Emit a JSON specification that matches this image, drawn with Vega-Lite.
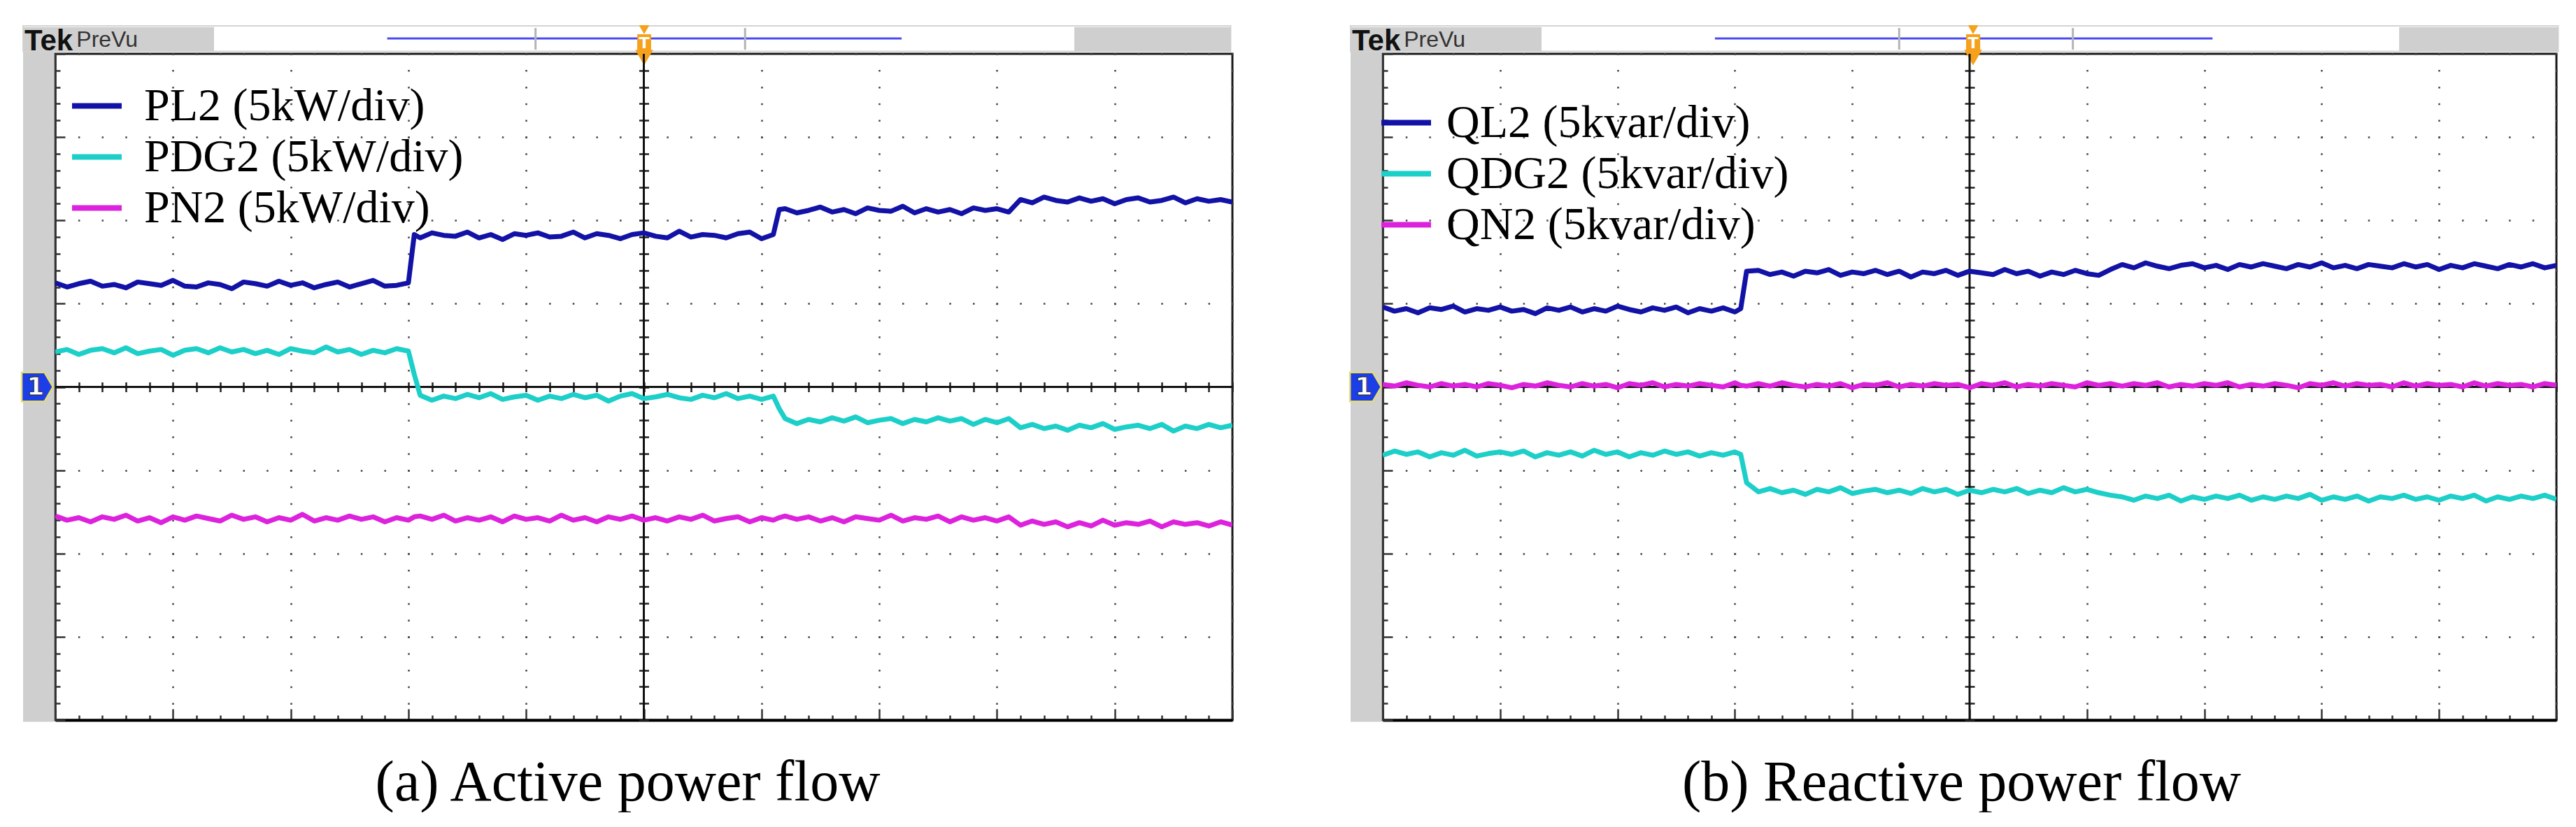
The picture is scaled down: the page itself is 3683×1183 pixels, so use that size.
{
"$schema": "https://vega.github.io/schema/vega-lite/v6.json",
"background": "white",
"padding": {"left": 24, "top": 34, "right": 10, "bottom": 0},
"spacing": 215,
"bounds": "flush",
"config": {"view": {"stroke": "#1a1a1a", "strokeWidth": 3}, "font": "Liberation Serif"},
"resolve": {"scale": {"color": "independent", "x": "independent", "y": "independent"}, "legend": {"color": "independent"}},
"datasets": {
"active": [
{"t":0,"PL2":1.25,"PDG2":0.42,"PN2":-1.55},
{"t":0.1,"PL2":1.20,"PDG2":0.45,"PN2":-1.60},
{"t":0.2,"PL2":1.24,"PDG2":0.39,"PN2":-1.57},
{"t":0.3,"PL2":1.27,"PDG2":0.44,"PN2":-1.62},
{"t":0.4,"PL2":1.21,"PDG2":0.46,"PN2":-1.56},
{"t":0.5,"PL2":1.23,"PDG2":0.41,"PN2":-1.59},
{"t":0.6,"PL2":1.19,"PDG2":0.47,"PN2":-1.54},
{"t":0.7,"PL2":1.26,"PDG2":0.40,"PN2":-1.61},
{"t":0.8,"PL2":1.24,"PDG2":0.43,"PN2":-1.57},
{"t":0.9,"PL2":1.22,"PDG2":0.45,"PN2":-1.63},
{"t":1.0,"PL2":1.28,"PDG2":0.38,"PN2":-1.56},
{"t":1.1,"PL2":1.21,"PDG2":0.44,"PN2":-1.60},
{"t":1.2,"PL2":1.20,"PDG2":0.46,"PN2":-1.55},
{"t":1.3,"PL2":1.25,"PDG2":0.41,"PN2":-1.58},
{"t":1.4,"PL2":1.23,"PDG2":0.47,"PN2":-1.61},
{"t":1.5,"PL2":1.18,"PDG2":0.42,"PN2":-1.54},
{"t":1.6,"PL2":1.26,"PDG2":0.45,"PN2":-1.59},
{"t":1.7,"PL2":1.24,"PDG2":0.40,"PN2":-1.56},
{"t":1.8,"PL2":1.21,"PDG2":0.44,"PN2":-1.62},
{"t":1.9,"PL2":1.27,"PDG2":0.39,"PN2":-1.57},
{"t":2.0,"PL2":1.22,"PDG2":0.46,"PN2":-1.60},
{"t":2.1,"PL2":1.25,"PDG2":0.43,"PN2":-1.53},
{"t":2.2,"PL2":1.19,"PDG2":0.41,"PN2":-1.61},
{"t":2.3,"PL2":1.23,"PDG2":0.48,"PN2":-1.57},
{"t":2.4,"PL2":1.26,"PDG2":0.42,"PN2":-1.60},
{"t":2.5,"PL2":1.20,"PDG2":0.45,"PN2":-1.55},
{"t":2.6,"PL2":1.24,"PDG2":0.39,"PN2":-1.59},
{"t":2.7,"PL2":1.28,"PDG2":0.44,"PN2":-1.56},
{"t":2.8,"PL2":1.21,"PDG2":0.41,"PN2":-1.62},
{"t":2.9,"PL2":1.22,"PDG2":0.46,"PN2":-1.57},
{"t":3.0,"PL2":1.25,"PDG2":0.43,"PN2":-1.60},
{"t":3.05,"PL2":1.83,"PDG2":0.15,"PN2":-1.56},
{"t":3.1,"PL2":1.79,"PDG2":-0.10,"PN2":-1.55},
{"t":3.2,"PL2":1.85,"PDG2":-0.16,"PN2":-1.59},
{"t":3.3,"PL2":1.82,"PDG2":-0.11,"PN2":-1.54},
{"t":3.4,"PL2":1.81,"PDG2":-0.14,"PN2":-1.61},
{"t":3.5,"PL2":1.86,"PDG2":-0.09,"PN2":-1.57},
{"t":3.6,"PL2":1.79,"PDG2":-0.13,"PN2":-1.60},
{"t":3.7,"PL2":1.83,"PDG2":-0.08,"PN2":-1.56},
{"t":3.8,"PL2":1.77,"PDG2":-0.15,"PN2":-1.62},
{"t":3.9,"PL2":1.84,"PDG2":-0.12,"PN2":-1.55},
{"t":4.0,"PL2":1.82,"PDG2":-0.10,"PN2":-1.59},
{"t":4.1,"PL2":1.85,"PDG2":-0.16,"PN2":-1.57},
{"t":4.2,"PL2":1.80,"PDG2":-0.11,"PN2":-1.61},
{"t":4.3,"PL2":1.81,"PDG2":-0.14,"PN2":-1.54},
{"t":4.4,"PL2":1.86,"PDG2":-0.09,"PN2":-1.60},
{"t":4.5,"PL2":1.79,"PDG2":-0.13,"PN2":-1.57},
{"t":4.6,"PL2":1.84,"PDG2":-0.10,"PN2":-1.62},
{"t":4.7,"PL2":1.82,"PDG2":-0.17,"PN2":-1.56},
{"t":4.8,"PL2":1.78,"PDG2":-0.11,"PN2":-1.59},
{"t":4.9,"PL2":1.83,"PDG2":-0.08,"PN2":-1.55},
{"t":5.0,"PL2":1.85,"PDG2":-0.14,"PN2":-1.60},
{"t":5.1,"PL2":1.81,"PDG2":-0.12,"PN2":-1.57},
{"t":5.2,"PL2":1.79,"PDG2":-0.09,"PN2":-1.61},
{"t":5.3,"PL2":1.87,"PDG2":-0.13,"PN2":-1.56},
{"t":5.4,"PL2":1.80,"PDG2":-0.15,"PN2":-1.59},
{"t":5.5,"PL2":1.83,"PDG2":-0.10,"PN2":-1.54},
{"t":5.6,"PL2":1.82,"PDG2":-0.13,"PN2":-1.61},
{"t":5.7,"PL2":1.79,"PDG2":-0.08,"PN2":-1.58},
{"t":5.8,"PL2":1.84,"PDG2":-0.14,"PN2":-1.56},
{"t":5.9,"PL2":1.86,"PDG2":-0.11,"PN2":-1.62},
{"t":6.0,"PL2":1.78,"PDG2":-0.15,"PN2":-1.57},
{"t":6.1,"PL2":1.83,"PDG2":-0.11,"PN2":-1.60},
{"t":6.15,"PL2":2.13,"PDG2":-0.26,"PN2":-1.57},
{"t":6.2,"PL2":2.14,"PDG2":-0.38,"PN2":-1.55},
{"t":6.3,"PL2":2.09,"PDG2":-0.44,"PN2":-1.59},
{"t":6.4,"PL2":2.12,"PDG2":-0.39,"PN2":-1.56},
{"t":6.5,"PL2":2.16,"PDG2":-0.42,"PN2":-1.61},
{"t":6.6,"PL2":2.10,"PDG2":-0.37,"PN2":-1.57},
{"t":6.7,"PL2":2.13,"PDG2":-0.41,"PN2":-1.62},
{"t":6.8,"PL2":2.08,"PDG2":-0.36,"PN2":-1.56},
{"t":6.9,"PL2":2.15,"PDG2":-0.43,"PN2":-1.58},
{"t":7.0,"PL2":2.12,"PDG2":-0.40,"PN2":-1.60},
{"t":7.1,"PL2":2.11,"PDG2":-0.38,"PN2":-1.54},
{"t":7.2,"PL2":2.17,"PDG2":-0.44,"PN2":-1.61},
{"t":7.3,"PL2":2.09,"PDG2":-0.39,"PN2":-1.57},
{"t":7.4,"PL2":2.14,"PDG2":-0.42,"PN2":-1.59},
{"t":7.5,"PL2":2.10,"PDG2":-0.37,"PN2":-1.55},
{"t":7.6,"PL2":2.13,"PDG2":-0.41,"PN2":-1.62},
{"t":7.7,"PL2":2.08,"PDG2":-0.38,"PN2":-1.56},
{"t":7.8,"PL2":2.15,"PDG2":-0.45,"PN2":-1.60},
{"t":7.9,"PL2":2.12,"PDG2":-0.39,"PN2":-1.57},
{"t":8.0,"PL2":2.14,"PDG2":-0.43,"PN2":-1.61},
{"t":8.1,"PL2":2.10,"PDG2":-0.38,"PN2":-1.56},
{"t":8.2,"PL2":2.25,"PDG2":-0.49,"PN2":-1.66},
{"t":8.3,"PL2":2.21,"PDG2":-0.45,"PN2":-1.61},
{"t":8.4,"PL2":2.28,"PDG2":-0.50,"PN2":-1.65},
{"t":8.5,"PL2":2.24,"PDG2":-0.47,"PN2":-1.62},
{"t":8.6,"PL2":2.22,"PDG2":-0.52,"PN2":-1.68},
{"t":8.7,"PL2":2.27,"PDG2":-0.46,"PN2":-1.63},
{"t":8.8,"PL2":2.23,"PDG2":-0.49,"PN2":-1.67},
{"t":8.9,"PL2":2.26,"PDG2":-0.44,"PN2":-1.60},
{"t":9.0,"PL2":2.20,"PDG2":-0.51,"PN2":-1.66},
{"t":9.1,"PL2":2.25,"PDG2":-0.48,"PN2":-1.63},
{"t":9.2,"PL2":2.27,"PDG2":-0.46,"PN2":-1.65},
{"t":9.3,"PL2":2.22,"PDG2":-0.50,"PN2":-1.61},
{"t":9.4,"PL2":2.24,"PDG2":-0.45,"PN2":-1.68},
{"t":9.5,"PL2":2.28,"PDG2":-0.53,"PN2":-1.62},
{"t":9.6,"PL2":2.21,"PDG2":-0.47,"PN2":-1.65},
{"t":9.7,"PL2":2.26,"PDG2":-0.50,"PN2":-1.63},
{"t":9.8,"PL2":2.23,"PDG2":-0.45,"PN2":-1.67},
{"t":9.9,"PL2":2.25,"PDG2":-0.49,"PN2":-1.62},
{"t":10.0,"PL2":2.22,"PDG2":-0.46,"PN2":-1.66}
],
"reactive": [
{"t":0,"QL2":0.96,"QDG2":-0.82,"QN2":0.03},
{"t":0.1,"QL2":0.91,"QDG2":-0.77,"QN2":0.01},
{"t":0.2,"QL2":0.94,"QDG2":-0.81,"QN2":0.05},
{"t":0.3,"QL2":0.89,"QDG2":-0.78,"QN2":0.02},
{"t":0.4,"QL2":0.95,"QDG2":-0.84,"QN2":0.00},
{"t":0.5,"QL2":0.93,"QDG2":-0.79,"QN2":0.04},
{"t":0.6,"QL2":0.97,"QDG2":-0.82,"QN2":0.01},
{"t":0.7,"QL2":0.90,"QDG2":-0.76,"QN2":0.03},
{"t":0.8,"QL2":0.94,"QDG2":-0.83,"QN2":0.00},
{"t":0.9,"QL2":0.92,"QDG2":-0.80,"QN2":0.04},
{"t":1.0,"QL2":0.96,"QDG2":-0.78,"QN2":0.02},
{"t":1.1,"QL2":0.91,"QDG2":-0.81,"QN2":-0.01},
{"t":1.2,"QL2":0.93,"QDG2":-0.77,"QN2":0.03},
{"t":1.3,"QL2":0.88,"QDG2":-0.84,"QN2":0.01},
{"t":1.4,"QL2":0.95,"QDG2":-0.79,"QN2":0.05},
{"t":1.5,"QL2":0.92,"QDG2":-0.82,"QN2":0.02},
{"t":1.6,"QL2":0.96,"QDG2":-0.78,"QN2":0.00},
{"t":1.7,"QL2":0.90,"QDG2":-0.83,"QN2":0.04},
{"t":1.8,"QL2":0.94,"QDG2":-0.76,"QN2":0.01},
{"t":1.9,"QL2":0.91,"QDG2":-0.81,"QN2":0.03},
{"t":2.0,"QL2":0.97,"QDG2":-0.78,"QN2":-0.01},
{"t":2.1,"QL2":0.93,"QDG2":-0.84,"QN2":0.04},
{"t":2.2,"QL2":0.90,"QDG2":-0.79,"QN2":0.02},
{"t":2.3,"QL2":0.95,"QDG2":-0.82,"QN2":0.05},
{"t":2.4,"QL2":0.92,"QDG2":-0.77,"QN2":0.00},
{"t":2.5,"QL2":0.96,"QDG2":-0.81,"QN2":0.03},
{"t":2.6,"QL2":0.89,"QDG2":-0.78,"QN2":0.01},
{"t":2.7,"QL2":0.94,"QDG2":-0.83,"QN2":0.04},
{"t":2.8,"QL2":0.91,"QDG2":-0.79,"QN2":0.02},
{"t":2.9,"QL2":0.95,"QDG2":-0.82,"QN2":0.00},
{"t":3.0,"QL2":0.90,"QDG2":-0.78,"QN2":0.05},
{"t":3.05,"QL2":0.94,"QDG2":-0.81,"QN2":0.02},
{"t":3.1,"QL2":1.39,"QDG2":-1.15,"QN2":0.01},
{"t":3.2,"QL2":1.40,"QDG2":-1.26,"QN2":0.04},
{"t":3.3,"QL2":1.35,"QDG2":-1.22,"QN2":0.01},
{"t":3.4,"QL2":1.38,"QDG2":-1.27,"QN2":0.05},
{"t":3.5,"QL2":1.33,"QDG2":-1.24,"QN2":0.02},
{"t":3.6,"QL2":1.39,"QDG2":-1.29,"QN2":0.00},
{"t":3.7,"QL2":1.37,"QDG2":-1.23,"QN2":0.03},
{"t":3.8,"QL2":1.41,"QDG2":-1.26,"QN2":0.01},
{"t":3.9,"QL2":1.34,"QDG2":-1.21,"QN2":0.04},
{"t":4.0,"QL2":1.38,"QDG2":-1.28,"QN2":-0.01},
{"t":4.1,"QL2":1.36,"QDG2":-1.25,"QN2":0.03},
{"t":4.2,"QL2":1.40,"QDG2":-1.23,"QN2":0.02},
{"t":4.3,"QL2":1.35,"QDG2":-1.27,"QN2":0.05},
{"t":4.4,"QL2":1.39,"QDG2":-1.24,"QN2":0.00},
{"t":4.5,"QL2":1.32,"QDG2":-1.28,"QN2":0.03},
{"t":4.6,"QL2":1.38,"QDG2":-1.22,"QN2":0.01},
{"t":4.7,"QL2":1.36,"QDG2":-1.26,"QN2":0.04},
{"t":4.8,"QL2":1.40,"QDG2":-1.23,"QN2":0.02},
{"t":4.9,"QL2":1.34,"QDG2":-1.29,"QN2":0.03},
{"t":5.0,"QL2":1.39,"QDG2":-1.24,"QN2":-0.01},
{"t":5.1,"QL2":1.37,"QDG2":-1.27,"QN2":0.04},
{"t":5.2,"QL2":1.35,"QDG2":-1.23,"QN2":0.02},
{"t":5.3,"QL2":1.41,"QDG2":-1.26,"QN2":0.05},
{"t":5.4,"QL2":1.36,"QDG2":-1.22,"QN2":0.00},
{"t":5.5,"QL2":1.39,"QDG2":-1.28,"QN2":0.03},
{"t":5.6,"QL2":1.33,"QDG2":-1.24,"QN2":0.01},
{"t":5.7,"QL2":1.38,"QDG2":-1.27,"QN2":0.04},
{"t":5.8,"QL2":1.35,"QDG2":-1.21,"QN2":0.02},
{"t":5.9,"QL2":1.40,"QDG2":-1.26,"QN2":0.00},
{"t":6.0,"QL2":1.36,"QDG2":-1.23,"QN2":0.05},
{"t":6.1,"QL2":1.34,"QDG2":-1.27,"QN2":0.02},
{"t":6.2,"QL2":1.41,"QDG2":-1.30,"QN2":0.04},
{"t":6.3,"QL2":1.47,"QDG2":-1.32,"QN2":0.01},
{"t":6.4,"QL2":1.43,"QDG2":-1.36,"QN2":0.04},
{"t":6.5,"QL2":1.49,"QDG2":-1.31,"QN2":0.02},
{"t":6.6,"QL2":1.45,"QDG2":-1.34,"QN2":0.05},
{"t":6.7,"QL2":1.42,"QDG2":-1.30,"QN2":0.00},
{"t":6.8,"QL2":1.46,"QDG2":-1.37,"QN2":0.03},
{"t":6.9,"QL2":1.48,"QDG2":-1.32,"QN2":0.01},
{"t":7.0,"QL2":1.43,"QDG2":-1.35,"QN2":0.04},
{"t":7.1,"QL2":1.46,"QDG2":-1.31,"QN2":0.02},
{"t":7.2,"QL2":1.41,"QDG2":-1.34,"QN2":0.05},
{"t":7.3,"QL2":1.47,"QDG2":-1.30,"QN2":0.00},
{"t":7.4,"QL2":1.44,"QDG2":-1.36,"QN2":0.03},
{"t":7.5,"QL2":1.48,"QDG2":-1.32,"QN2":0.01},
{"t":7.6,"QL2":1.45,"QDG2":-1.35,"QN2":0.04},
{"t":7.7,"QL2":1.42,"QDG2":-1.31,"QN2":0.02},
{"t":7.8,"QL2":1.47,"QDG2":-1.34,"QN2":-0.01},
{"t":7.9,"QL2":1.44,"QDG2":-1.29,"QN2":0.04},
{"t":8.0,"QL2":1.49,"QDG2":-1.36,"QN2":0.02},
{"t":8.1,"QL2":1.43,"QDG2":-1.32,"QN2":0.05},
{"t":8.2,"QL2":1.46,"QDG2":-1.35,"QN2":0.01},
{"t":8.3,"QL2":1.42,"QDG2":-1.31,"QN2":0.04},
{"t":8.4,"QL2":1.47,"QDG2":-1.37,"QN2":0.02},
{"t":8.5,"QL2":1.45,"QDG2":-1.32,"QN2":0.03},
{"t":8.6,"QL2":1.43,"QDG2":-1.34,"QN2":0.00},
{"t":8.7,"QL2":1.48,"QDG2":-1.30,"QN2":0.05},
{"t":8.8,"QL2":1.44,"QDG2":-1.35,"QN2":0.01},
{"t":8.9,"QL2":1.47,"QDG2":-1.32,"QN2":0.04},
{"t":9.0,"QL2":1.41,"QDG2":-1.36,"QN2":0.02},
{"t":9.1,"QL2":1.46,"QDG2":-1.31,"QN2":0.03},
{"t":9.2,"QL2":1.43,"QDG2":-1.34,"QN2":0.00},
{"t":9.3,"QL2":1.48,"QDG2":-1.30,"QN2":0.05},
{"t":9.4,"QL2":1.45,"QDG2":-1.37,"QN2":0.01},
{"t":9.5,"QL2":1.42,"QDG2":-1.32,"QN2":0.04},
{"t":9.6,"QL2":1.47,"QDG2":-1.35,"QN2":0.02},
{"t":9.7,"QL2":1.44,"QDG2":-1.31,"QN2":0.03},
{"t":9.8,"QL2":1.48,"QDG2":-1.34,"QN2":0.00},
{"t":9.9,"QL2":1.43,"QDG2":-1.30,"QN2":0.04},
{"t":10.0,"QL2":1.46,"QDG2":-1.35,"QN2":0.02}
]
},
"hconcat": [
{
"width": 1683, "height": 953,
"resolve": {"axis": {"x": "independent", "y": "independent"}},
"layer": [
{"data":{"values":[{}]},"mark":{"type":"rect","fill":"#cfcfcf"},"encoding":{"x":{"datum":-0.273,"type":"quantitative","scale":{"domain":[0,10],"nice":false,"zero":false},"axis":null},"x2":{"datum":-0.009},"y":{"datum":-4.02,"type":"quantitative","scale":{"domain":[-4,4],"nice":false,"zero":false},"axis":null},"y2":{"datum":4.03}}},
{"data":{"values":[{}]},"mark":{"type":"rect","fill":"#ffffff","stroke":"#d4d4d4","strokeWidth":2},"encoding":{"x":{"datum":-0.273,"type":"quantitative","axis":null},"x2":{"datum":9.985},"y":{"datum":4.03,"type":"quantitative","axis":null},"y2":{"datum":4.335}}},
{"data":{"values":[{}]},"mark":{"type":"rect","fill":"#cfcfcf"},"encoding":{"x":{"datum":-0.273,"type":"quantitative","axis":null},"x2":{"datum":1.349},"y":{"datum":4.03,"type":"quantitative","axis":null},"y2":{"datum":4.322}}},
{"data":{"values":[{}]},"mark":{"type":"rect","fill":"#cfcfcf"},"encoding":{"x":{"datum":8.657,"type":"quantitative","axis":null},"x2":{"datum":9.985},"y":{"datum":4.03,"type":"quantitative","axis":null},"y2":{"datum":4.322}}},
{"data":{"values":[{}]},"mark":{"type":"rule","color":"#4b4bef","strokeWidth":3},"encoding":{"x":{"datum":2.82,"type":"quantitative","axis":null},"x2":{"datum":7.19},"y":{"datum":4.185,"type":"quantitative","axis":null}}},
{"data":{"values":[{}]},"mark":{"type":"rule","color":"#b4b4b4","strokeWidth":3},"encoding":{"x":{"datum":4.08,"type":"quantitative","axis":null},"y":{"datum":4.05,"type":"quantitative","axis":null},"y2":{"datum":4.31}}},
{"data":{"values":[{}]},"mark":{"type":"rule","color":"#b4b4b4","strokeWidth":3},"encoding":{"x":{"datum":5.86,"type":"quantitative","axis":null},"y":{"datum":4.05,"type":"quantitative","axis":null},"y2":{"datum":4.31}}},
{"data":{"values":[{}]},"mark":{"type":"rect","fill":"#f5a11c"},"encoding":{"x":{"datum":4.944,"type":"quantitative","axis":null},"x2":{"datum":5.062},"y":{"datum":4.03,"type":"quantitative","axis":null},"y2":{"datum":4.235}}},
{"data":{"values":[{}]},"mark":{"type":"point","shape":"triangle-down","filled":true,"fill":"#f5a11c","opacity":1,"size":220},"encoding":{"x":{"datum":5.003,"type":"quantitative","axis":null},"y":{"datum":4.29,"type":"quantitative","axis":null}}},
{"data":{"values":[{}]},"mark":{"type":"point","shape":"triangle-down","filled":true,"fill":"#f5a11c","opacity":1,"size":650},"encoding":{"x":{"datum":5.003,"type":"quantitative","axis":null},"y":{"datum":3.955,"type":"quantitative","axis":null}}},
{"data":{"values":[{}]},"mark":{"type":"text","text":"T","font":"DejaVu Sans","fontWeight":"bold","fontSize":22,"color":"#ffffff","align":"center","baseline":"middle"},"encoding":{"x":{"datum":5.003,"type":"quantitative","axis":null},"y":{"datum":4.13,"type":"quantitative","axis":null}}},
{"data":{"values":[{}]},"mark":{"type":"text","text":"Tek","font":"Liberation Sans","fontWeight":"bold","fontSize":42,"color":"#111111","align":"left","baseline":"alphabetic"},"encoding":{"x":{"datum":-0.262,"type":"quantitative","axis":null},"y":{"datum":4.042,"type":"quantitative","axis":null}}},
{"data":{"values":[{}]},"mark":{"type":"text","text":"PreVu","font":"Liberation Sans","fontSize":32,"color":"#333333","align":"left","baseline":"alphabetic"},"encoding":{"x":{"datum":0.18,"type":"quantitative","axis":null},"y":{"datum":4.084,"type":"quantitative","axis":null}}},
{"data":{"values":[{}]},"mark":{"type":"point","shape":"M-1,-0.93L0.45,-0.93L1,0L0.45,0.93L-1,0.93Z","filled":true,"fill":"#1c3ee6","stroke":"#e6dc6e","strokeWidth":2.5,"opacity":1,"size":2000},"encoding":{"x":{"datum":-0.152,"type":"quantitative","axis":null},"y":{"datum":0,"type":"quantitative","axis":null}}},
{"data":{"values":[{}]},"mark":{"type":"text","text":"1","font":"DejaVu Sans","fontWeight":"bold","fontSize":36,"color":"#ffffff","stroke":"#222222","strokeWidth":0.8,"align":"center","baseline":"middle"},"encoding":{"x":{"datum":-0.168,"type":"quantitative","axis":null},"y":{"datum":0,"type":"quantitative","axis":null}}},
{"data":{"values":[{}]},"mark":{"type":"rule","color":"#111111","strokeWidth":3},"encoding":{"x":{"datum":5,"type":"quantitative","axis":{"orient":"top","offset":-483.5,"values":[0,0.2,0.4,0.6,0.8,1,1.2,1.4,1.6,1.8,2,2.2,2.4,2.6,2.8,3,3.2,3.4,3.6,3.8,4,4.2,4.4,4.6,4.8,5,5.2,5.4,5.6,5.8,6,6.2,6.4,6.6,6.8,7,7.2,7.4,7.6,7.8,8,8.2,8.4,8.6,8.8,9,9.2,9.4,9.6,9.8,10],"labels":false,"domain":false,"grid":false,"ticks":true,"tickSize":14,"tickColor":"#222222","tickWidth":2.5,"title":null}}}},
{"data":{"values":[{}]},"mark":{"type":"rule","color":"#111111","strokeWidth":3},"encoding":{"y":{"datum":0,"type":"quantitative","axis":{"orient":"right","offset":-848.5,"values":[-4,-3.8,-3.6,-3.4,-3.2,-3,-2.8,-2.6,-2.4,-2.2,-2,-1.8,-1.6,-1.4,-1.2,-1,-0.8,-0.6,-0.4,-0.2,0,0.2,0.4,0.6,0.8,1,1.2,1.4,1.6,1.8,2,2.2,2.4,2.6,2.8,3,3.2,3.4,3.6,3.8,4],"labels":false,"domain":false,"grid":false,"ticks":true,"tickSize":14,"tickColor":"#222222","tickWidth":2.5,"title":null}}}},
{"data":{"name":"active"},"transform":[{"fold":["PL2","PDG2","PN2"],"as":["series","value"]}],
"mark":{"type":"line","strokeWidth":7,"strokeJoin":"round","clip":true},
"encoding":{
"x":{"field":"t","type":"quantitative","scale":{"domain":[0,10],"nice":false,"zero":false},"axis":{"orient":"bottom","values":[0,0.2,0.4,0.6,0.8,1,1.2,1.4,1.6,1.8,2,2.2,2.4,2.6,2.8,3,3.2,3.4,3.6,3.8,4,4.2,4.4,4.6,4.8,5,5.2,5.4,5.6,5.8,6,6.2,6.4,6.6,6.8,7,7.2,7.4,7.6,7.8,8,8.2,8.4,8.6,8.8,9,9.2,9.4,9.6,9.8,10],"labels":false,"domain":true,"domainColor":"#000000","domainWidth":4,"ticks":true,"tickColor":"#333333","tickWidth":2.5,"tickSize":{"condition":{"test":"abs(datum.value - round(datum.value)) < 0.001","value":-16},"value":-7},"grid":true,"gridColor":"#444444","gridWidth":2.5,"gridDash":[2.5,21.33],"gridDashOffset":1.25,"gridOpacity":{"condition":{"test":"abs(datum.value - round(datum.value)) < 0.001","value":1},"value":0},"title":"(a) Active power flow","titleFont":"Liberation Serif","titleFontSize":82,"titleFontWeight":"normal","titleColor":"#000000","titleBaseline":"alphabetic","titleX":818,"titleY":114}},
"y":{"field":"value","type":"quantitative","scale":{"domain":[-4,4],"nice":false,"zero":false},"axis":{"orient":"left","values":[-4,-3.8,-3.6,-3.4,-3.2,-3,-2.8,-2.6,-2.4,-2.2,-2,-1.8,-1.6,-1.4,-1.2,-1,-0.8,-0.6,-0.4,-0.2,0,0.2,0.4,0.6,0.8,1,1.2,1.4,1.6,1.8,2,2.2,2.4,2.6,2.8,3,3.2,3.4,3.6,3.8,4],"labels":false,"domain":true,"domainColor":"#333333","domainWidth":2.5,"ticks":true,"tickColor":"#333333","tickWidth":2.5,"tickSize":{"condition":{"test":"abs(datum.value - round(datum.value)) < 0.001","value":-14},"value":-7},"grid":true,"gridColor":"#444444","gridWidth":2.5,"gridDash":[2.5,31.16],"gridDashOffset":1.25,"gridOpacity":{"condition":{"test":"abs(datum.value - round(datum.value)) < 0.001","value":1},"value":0},"title":null}},
"color":{"field":"series","type":"nominal","scale":{"domain":["PL2","PDG2","PN2"],"range":["#1212a6","#1ccfc8","#dd22dd"]},"legend":{"title":null,"orient":"none","legendX":20,"legendY":35,"padding":0,"rowPadding":-1,"symbolType":"stroke","symbolSize":5041,"symbolStrokeWidth":8,"symbolOpacity":1,"labelOffset":28,"labelFont":"Liberation Serif","labelFontSize":66,"labelColor":"#000000","labelLimit":1000,"labelExpr":"datum.label + ' (5kW/div)'"}}
}}
]
},
{
"width": 1678, "height": 953,
"resolve": {"axis": {"x": "independent", "y": "independent"}},
"layer": [
{"data":{"values":[{}]},"mark":{"type":"rect","fill":"#cfcfcf"},"encoding":{"x":{"datum":-0.274,"type":"quantitative","scale":{"domain":[0,10],"nice":false,"zero":false},"axis":null},"x2":{"datum":-0.009},"y":{"datum":-4.02,"type":"quantitative","scale":{"domain":[-4,4],"nice":false,"zero":false},"axis":null},"y2":{"datum":4.03}}},
{"data":{"values":[{}]},"mark":{"type":"rect","fill":"#ffffff","stroke":"#d4d4d4","strokeWidth":2},"encoding":{"x":{"datum":-0.274,"type":"quantitative","axis":null},"x2":{"datum":10.015},"y":{"datum":4.03,"type":"quantitative","axis":null},"y2":{"datum":4.335}}},
{"data":{"values":[{}]},"mark":{"type":"rect","fill":"#cfcfcf"},"encoding":{"x":{"datum":-0.274,"type":"quantitative","axis":null},"x2":{"datum":1.353},"y":{"datum":4.03,"type":"quantitative","axis":null},"y2":{"datum":4.322}}},
{"data":{"values":[{}]},"mark":{"type":"rect","fill":"#cfcfcf"},"encoding":{"x":{"datum":8.66,"type":"quantitative","axis":null},"x2":{"datum":10.015},"y":{"datum":4.03,"type":"quantitative","axis":null},"y2":{"datum":4.322}}},
{"data":{"values":[{}]},"mark":{"type":"rule","color":"#4b4bef","strokeWidth":3},"encoding":{"x":{"datum":2.83,"type":"quantitative","axis":null},"x2":{"datum":7.07},"y":{"datum":4.185,"type":"quantitative","axis":null}}},
{"data":{"values":[{}]},"mark":{"type":"rule","color":"#b4b4b4","strokeWidth":3},"encoding":{"x":{"datum":4.40,"type":"quantitative","axis":null},"y":{"datum":4.05,"type":"quantitative","axis":null},"y2":{"datum":4.31}}},
{"data":{"values":[{}]},"mark":{"type":"rule","color":"#b4b4b4","strokeWidth":3},"encoding":{"x":{"datum":5.88,"type":"quantitative","axis":null},"y":{"datum":4.05,"type":"quantitative","axis":null},"y2":{"datum":4.31}}},
{"data":{"values":[{}]},"mark":{"type":"rect","fill":"#f5a11c"},"encoding":{"x":{"datum":4.97,"type":"quantitative","axis":null},"x2":{"datum":5.09},"y":{"datum":4.03,"type":"quantitative","axis":null},"y2":{"datum":4.235}}},
{"data":{"values":[{}]},"mark":{"type":"point","shape":"triangle-down","filled":true,"fill":"#f5a11c","opacity":1,"size":220},"encoding":{"x":{"datum":5.03,"type":"quantitative","axis":null},"y":{"datum":4.29,"type":"quantitative","axis":null}}},
{"data":{"values":[{}]},"mark":{"type":"point","shape":"triangle-down","filled":true,"fill":"#f5a11c","opacity":1,"size":650},"encoding":{"x":{"datum":5.03,"type":"quantitative","axis":null},"y":{"datum":3.955,"type":"quantitative","axis":null}}},
{"data":{"values":[{}]},"mark":{"type":"text","text":"T","font":"DejaVu Sans","fontWeight":"bold","fontSize":22,"color":"#ffffff","align":"center","baseline":"middle"},"encoding":{"x":{"datum":5.03,"type":"quantitative","axis":null},"y":{"datum":4.13,"type":"quantitative","axis":null}}},
{"data":{"values":[{}]},"mark":{"type":"text","text":"Tek","font":"Liberation Sans","fontWeight":"bold","fontSize":42,"color":"#111111","align":"left","baseline":"alphabetic"},"encoding":{"x":{"datum":-0.262,"type":"quantitative","axis":null},"y":{"datum":4.042,"type":"quantitative","axis":null}}},
{"data":{"values":[{}]},"mark":{"type":"text","text":"PreVu","font":"Liberation Sans","fontSize":32,"color":"#333333","align":"left","baseline":"alphabetic"},"encoding":{"x":{"datum":0.18,"type":"quantitative","axis":null},"y":{"datum":4.084,"type":"quantitative","axis":null}}},
{"data":{"values":[{}]},"mark":{"type":"point","shape":"M-1,-0.93L0.45,-0.93L1,0L0.45,0.93L-1,0.93Z","filled":true,"fill":"#1c3ee6","stroke":"#e6dc6e","strokeWidth":2.5,"opacity":1,"size":2000},"encoding":{"x":{"datum":-0.146,"type":"quantitative","axis":null},"y":{"datum":0,"type":"quantitative","axis":null}}},
{"data":{"values":[{}]},"mark":{"type":"text","text":"1","font":"DejaVu Sans","fontWeight":"bold","fontSize":36,"color":"#ffffff","stroke":"#222222","strokeWidth":0.8,"align":"center","baseline":"middle"},"encoding":{"x":{"datum":-0.162,"type":"quantitative","axis":null},"y":{"datum":0,"type":"quantitative","axis":null}}},
{"data":{"values":[{}]},"mark":{"type":"rule","color":"#111111","strokeWidth":3},"encoding":{"x":{"datum":5,"type":"quantitative","axis":{"orient":"top","offset":-483.5,"values":[0,0.2,0.4,0.6,0.8,1,1.2,1.4,1.6,1.8,2,2.2,2.4,2.6,2.8,3,3.2,3.4,3.6,3.8,4,4.2,4.4,4.6,4.8,5,5.2,5.4,5.6,5.8,6,6.2,6.4,6.6,6.8,7,7.2,7.4,7.6,7.8,8,8.2,8.4,8.6,8.8,9,9.2,9.4,9.6,9.8,10],"labels":false,"domain":false,"grid":false,"ticks":true,"tickSize":14,"tickColor":"#222222","tickWidth":2.5,"title":null}}}},
{"data":{"values":[{}]},"mark":{"type":"rule","color":"#111111","strokeWidth":3},"encoding":{"y":{"datum":0,"type":"quantitative","axis":{"orient":"right","offset":-846,"values":[-4,-3.8,-3.6,-3.4,-3.2,-3,-2.8,-2.6,-2.4,-2.2,-2,-1.8,-1.6,-1.4,-1.2,-1,-0.8,-0.6,-0.4,-0.2,0,0.2,0.4,0.6,0.8,1,1.2,1.4,1.6,1.8,2,2.2,2.4,2.6,2.8,3,3.2,3.4,3.6,3.8,4],"labels":false,"domain":false,"grid":false,"ticks":true,"tickSize":14,"tickColor":"#222222","tickWidth":2.5,"title":null}}}},
{"data":{"name":"reactive"},"transform":[{"fold":["QL2","QDG2","QN2"],"as":["series","value"]}],
"mark":{"type":"line","strokeWidth":7,"strokeJoin":"round","clip":true},
"encoding":{
"x":{"field":"t","type":"quantitative","scale":{"domain":[0,10],"nice":false,"zero":false},"axis":{"orient":"bottom","values":[0,0.2,0.4,0.6,0.8,1,1.2,1.4,1.6,1.8,2,2.2,2.4,2.6,2.8,3,3.2,3.4,3.6,3.8,4,4.2,4.4,4.6,4.8,5,5.2,5.4,5.6,5.8,6,6.2,6.4,6.6,6.8,7,7.2,7.4,7.6,7.8,8,8.2,8.4,8.6,8.8,9,9.2,9.4,9.6,9.8,10],"labels":false,"domain":true,"domainColor":"#000000","domainWidth":4,"ticks":true,"tickColor":"#333333","tickWidth":2.5,"tickSize":{"condition":{"test":"abs(datum.value - round(datum.value)) < 0.001","value":-16},"value":-7},"grid":true,"gridColor":"#444444","gridWidth":2.5,"gridDash":[2.5,21.33],"gridDashOffset":1.25,"gridOpacity":{"condition":{"test":"abs(datum.value - round(datum.value)) < 0.001","value":1},"value":0},"title":"(b) Reactive power flow","titleFont":"Liberation Serif","titleFontSize":82,"titleFontWeight":"normal","titleColor":"#000000","titleBaseline":"alphabetic","titleX":827,"titleY":114}},
"y":{"field":"value","type":"quantitative","scale":{"domain":[-4,4],"nice":false,"zero":false},"axis":{"orient":"left","values":[-4,-3.8,-3.6,-3.4,-3.2,-3,-2.8,-2.6,-2.4,-2.2,-2,-1.8,-1.6,-1.4,-1.2,-1,-0.8,-0.6,-0.4,-0.2,0,0.2,0.4,0.6,0.8,1,1.2,1.4,1.6,1.8,2,2.2,2.4,2.6,2.8,3,3.2,3.4,3.6,3.8,4],"labels":false,"domain":true,"domainColor":"#333333","domainWidth":2.5,"ticks":true,"tickColor":"#333333","tickWidth":2.5,"tickSize":{"condition":{"test":"abs(datum.value - round(datum.value)) < 0.001","value":-14},"value":-7},"grid":true,"gridColor":"#444444","gridWidth":2.5,"gridDash":[2.5,31.06],"gridDashOffset":1.25,"gridOpacity":{"condition":{"test":"abs(datum.value - round(datum.value)) < 0.001","value":1},"value":0},"title":null}},
"color":{"field":"series","type":"nominal","scale":{"domain":["QL2","QDG2","QN2"],"range":["#1212a6","#1ccfc8","#dd22dd"]},"legend":{"title":null,"orient":"none","legendX":-6,"legendY":59,"padding":0,"rowPadding":-1,"symbolType":"stroke","symbolSize":5041,"symbolStrokeWidth":8,"symbolOpacity":1,"labelOffset":18,"labelFont":"Liberation Serif","labelFontSize":66,"labelColor":"#000000","labelLimit":1000,"labelExpr":"datum.label + ' (5kvar/div)'"}}
}}
]
}
]
}
